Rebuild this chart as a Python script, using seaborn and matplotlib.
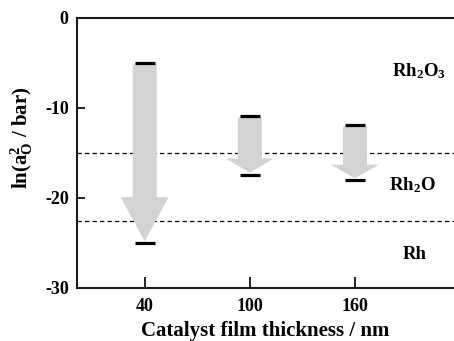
import matplotlib
matplotlib.use("Agg")
import matplotlib.pyplot as plt
import seaborn as sns
import pandas as pd
from matplotlib.patches import FancyArrow

# ---- data ----
thickness = [40, 100, 160]
ln_start = [-5.0, -10.9, -11.9]
ln_end = [-25.0, -17.4, -18.0]
head_len = [4.9, 1.6, 1.5]
boundaries = [-15.0, -22.5]
phase_names = ["Rh$_2$O$_3$", "Rh$_2$O", "Rh"]
phase_y = [-5.9, -18.6, -26.3]
phase_x = [196.5, 192.6, 194.0]
yticks = [0, -10, -20, -30]
xticks = [40, 100, 160]

sns.set_style("ticks")
plt.rcParams["font.family"] = ["Liberation Serif", "DejaVu Serif"]
plt.rcParams["font.weight"] = "bold"
plt.rcParams["mathtext.fontset"] = "custom"
plt.rcParams["mathtext.rm"] = "Liberation Serif:bold"
plt.rcParams["mathtext.it"] = "Liberation Serif:bold"
plt.rcParams["mathtext.bf"] = "Liberation Serif:bold"
for k in ["text.color", "axes.labelcolor", "xtick.color", "ytick.color"]:
    plt.rcParams[k] = "black"

fig = plt.figure(figsize=(4.54, 3.41), dpi=100)
fig.patch.set_facecolor("white")
W, H = 454, 341
ax = fig.add_axes([77 / W, (H - 288) / H, 1 - 77 / W, 270 / H])
ax.set_facecolor("white")

ax.set_xlim(1.4, 216.5)
ax.set_ylim(-30, 0)

for b in boundaries:
    ax.axhline(b, color="black", lw=0.9, linestyle=(0, (3.5, 2.5)), zorder=1)

for x, y0, y1, hl in zip(thickness, ln_start, ln_end, head_len):
    arr = FancyArrow(x, y0 - 0.15, 0, (y1 + 0.2) - (y0 - 0.15), width=13.7,
                     head_width=27.4, head_length=hl,
                     length_includes_head=True, color="#d2d3d5", lw=0, zorder=2)
    ax.add_patch(arr)

df = pd.DataFrame({"t": thickness * 2, "v": ln_start + ln_end})
sns.scatterplot(data=df, x="t", y="v", marker="_", s=190, color="black",
                linewidth=2.3, ax=ax, zorder=3, legend=False)

for name, x, y in zip(phase_names, phase_x, phase_y):
    ax.text(x, y, name, ha="center", va="center", fontsize=13.5,
            fontweight="bold", color="black")

ax.set_xticks(xticks)
ax.set_yticks(yticks)
ax.set_xticklabels([str(t) for t in xticks], fontsize=13, fontweight="bold")
ax.set_yticklabels([str(t) for t in yticks], fontsize=13, fontweight="bold")
ax.tick_params(direction="in", length=6, width=1.2, pad=6, colors="black")
ax.tick_params(axis="x", length=8, pad=7)

ax.set_xlabel("Catalyst film thickness / nm", fontsize=15, fontweight="bold")
ax.set_ylabel("ln(a$_{O}^{2}$ / bar)", fontsize=15, fontweight="bold")
ax.yaxis.set_label_coords(-0.112, 0.556)
ax.xaxis.set_label_coords(0.5, -0.121)

for s in ["left", "bottom", "top"]:
    ax.spines[s].set_linewidth(1.5)
    ax.spines[s].set_color("#1a1a1a")
ax.spines["right"].set_visible(False)

fig.savefig("out.png", dpi=100, facecolor="white")
